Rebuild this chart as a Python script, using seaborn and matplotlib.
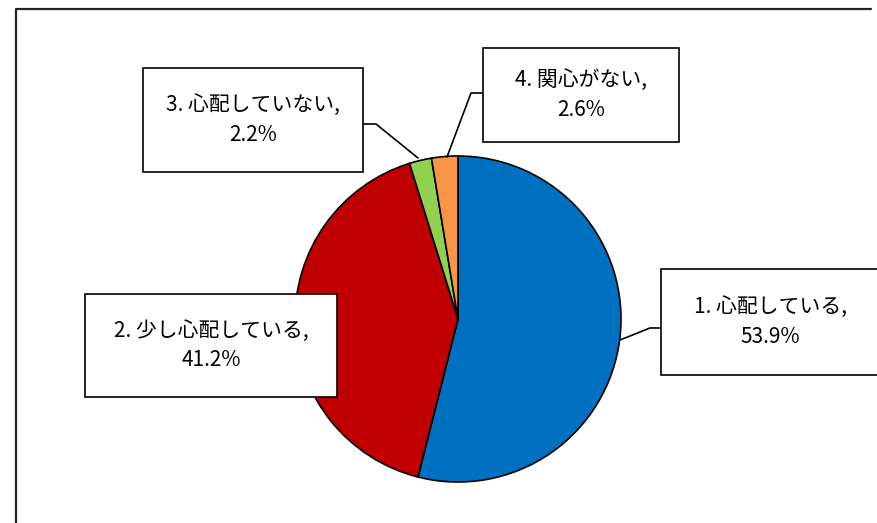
import matplotlib
matplotlib.use("Agg")
import matplotlib.pyplot as plt
import seaborn as sns
from matplotlib.patches import Rectangle

# data
categories = ["1. 心配している", "2. 少し心配している", "3. 心配していない", "4. 関心がない"]
values = [53.9, 41.2, 2.2, 2.6]
colors = ["#0070C0", "#C00000", "#92D050", "#F79646"]

sns.set_theme(style="white")
plt.rcParams['font.family'] = ['Noto Sans CJK JP', 'DejaVu Sans']

W, H = 877, 523
fig = plt.figure(figsize=(W / 100, H / 100), dpi=100)
ax = fig.add_axes([0, 0, 1, 1])

def py(y):
    # screen y (top-down) -> data y
    return H - y

cx, cy, r = 458, py(319), 163
ax.pie(values, colors=colors, startangle=90, counterclock=False,
       center=(cx, cy), radius=r,
       wedgeprops=dict(edgecolor="black", linewidth=1.2))
ax.set_xlim(0, W)
ax.set_ylim(0, H)
ax.set_aspect("equal")
ax.axis("off")

# outer chart frame
ax.plot([16, 16, 871], [py(H + 5), py(9), py(9)], color="#222222", lw=1.6,
        clip_on=False, zorder=1)

# label boxes (left, top, right, bottom) in screen pixels
boxes = [(661, 269, 880, 375), (85, 294, 337, 397),
         (143, 68, 363, 172), (483, 48, 679, 142)]
# leader lines in screen pixels
leaders = [[(620, 340), (650, 328), (661, 328)],
           [],
           [(418, 158), (376, 124), (363, 124)],
           [(447, 157), (471, 93), (483, 93)]]

for cat, val, (l, t, rr, b), lead in zip(categories, values, boxes, leaders):
    if lead:
        xs = [p[0] for p in lead]
        ys = [py(p[1]) for p in lead]
        ax.plot(xs, ys, color="black", lw=1.2, zorder=3)
    ax.add_patch(Rectangle((l, py(b)), rr - l, b - t, facecolor="white",
                           edgecolor="black", lw=1.2, zorder=4, clip_on=False))
    ax.text((l + rr) / 2, py((t + b) / 2), f"{cat},\n{val:.1f}%",
            ha="center", va="center", fontsize=15, linespacing=1.45,
            color="black", zorder=5)

fig.savefig("out.png", dpi=100)
